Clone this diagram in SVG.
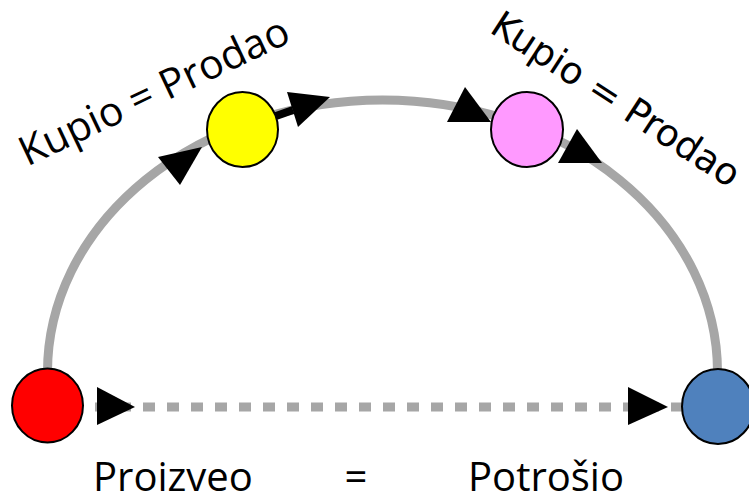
<svg xmlns="http://www.w3.org/2000/svg" width="749" height="501" viewBox="0 0 749 501">
<style>
.arc{fill:none;stroke:#a6a6a6;stroke-width:9}
.dot{fill:none;stroke:#a6a6a6;stroke-width:9;stroke-dasharray:12 12}
.head{fill:#000}
.node{stroke:#000;stroke-width:2}
.lbl{font-family:"Open Sans","Liberation Sans",sans-serif;font-size:40px;fill:#000}
.lbl1{font-family:"Open Sans","Liberation Sans",sans-serif;font-size:41px;fill:#000}
.lbl2{font-family:"DejaVu Sans","Liberation Sans",sans-serif;font-size:37.5px;fill:#000}
</style>
<rect width="749" height="501" fill="#fff"/>
<g id="connectors">
<path class="arc" d="M47.5 372 A335 272 0 0 1 717.5 372"/>
<line class="dot" x1="95" y1="407" x2="683" y2="407"/>
<line x1="276" y1="116" x2="293" y2="110" stroke="#000" stroke-width="8"/>
<polygon class="head" points="158,157 180,185 202,147"/>
<polygon class="head" points="287,92 298,127 330,97"/>
<polygon class="head" points="465,87 447,122 491,122"/>
<polygon class="head" points="577,129 558,163 602,163"/>
<polygon class="head" points="97,387 97,425 135,407"/>
<polygon class="head" points="628,387 628,425 668,407"/>
</g>
<g id="red"><ellipse class="node" cx="47.5" cy="405.5" rx="35.5" ry="37" fill="#ff0000"/></g>
<g id="blue"><ellipse class="node" cx="718" cy="406.5" rx="36" ry="37.5" fill="#4f81bd"/></g>
<g id="yellow"><ellipse class="node" cx="242.5" cy="129.5" rx="35.5" ry="37.5" fill="#ffff00"/></g>
<g id="pink"><ellipse class="node" cx="527" cy="129.5" rx="36" ry="37.5" fill="#ff99ff"/></g>
<g id="labels">
<text class="lbl1" x="160" y="104" text-anchor="middle" transform="rotate(-25.3 160 104)">Kupio = Prodao</text>
<text class="lbl2" x="609" y="110" text-anchor="middle" transform="rotate(33 609 110)">Kupio = Prodao</text>
<text class="lbl" x="93" y="491">Proizveo</text>
<text class="lbl" x="356" y="491" text-anchor="middle">=</text>
<text class="lbl" x="468" y="491">Potrošio</text>
</g>
</svg>
